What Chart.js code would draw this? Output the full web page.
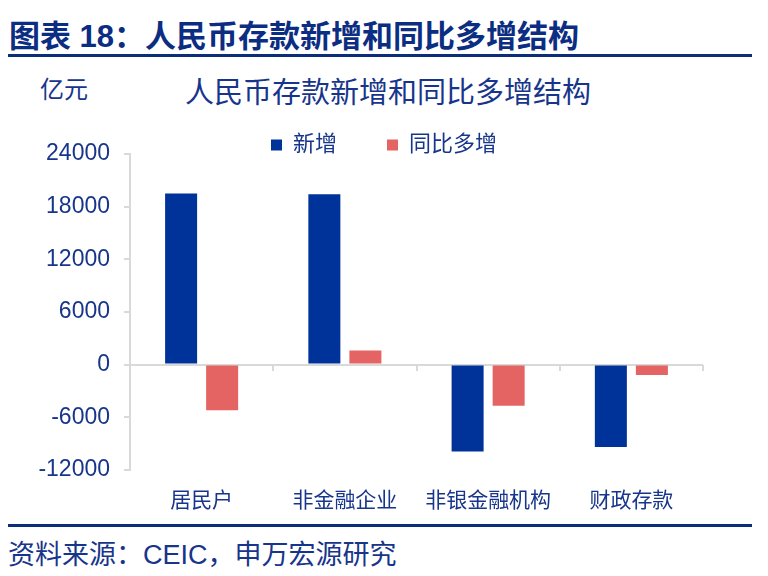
<!DOCTYPE html>
<html>
<head>
<meta charset="utf-8">
<script src="https://cdn.jsdelivr.net/npm/chart.js@4.4.1/dist/chart.umd.min.js"></script>
<style>
  html, body { margin: 0; padding: 0; background: #fff; }
  body { width: 768px; height: 576px; position: relative; overflow: hidden;
         font-family: "Liberation Sans", "Noto Sans CJK SC", sans-serif; color: #17358a; }
  .abs { position: absolute; white-space: nowrap; }
  #fig-title { left: 9px; top: 21px; font-size: 31px; line-height: 31px; font-weight: bold; color: #0b2d82; }
  .rule { position: absolute; left: 8px; width: 744px; height: 3px; background: #0b2d7a; }
  #unit { left: 40px; top: 78px; font-size: 24px; line-height: 24px; }
  #chart-title { left: 0; width: 776px; text-align: center; top: 79px; font-size: 29px; line-height: 29px; }
  #source { left: 8px; top: 542px; font-size: 27px; line-height: 27px; }
  #wrap { position: absolute; left: 0; top: 84px; width: 768px; height: 460px; }
</style>
</head>
<body>
<div id="fig-title" class="abs">图表 18：人民币存款新增和同比多增结构</div>
<div class="rule" style="top:54px"></div>
<div id="unit" class="abs">亿元</div>
<div id="chart-title" class="abs">人民币存款新增和同比多增结构</div>
<div class="rule" style="top:524px"></div>
<div id="source" class="abs">资料来源：CEIC，申万宏源研究</div>
<div id="wrap"><canvas id="chart"></canvas></div>

<script>
// --- Data (亿元) ---
const CATEGORIES = ['居民户', '非金融企业', '非银金融机构', '财政存款'];
const NEW_ADD    = [19500, 19400, -9900, -9400];   // 新增
const YOY_ADD    = [-5200, 1600, -4700, -1200];    // 同比多增
const Y_MIN = -12000, Y_MAX = 24000, Y_STEP = 6000;

const NAVY = '#17358a';
const AXIS_GREY = '#d9d9d9';
const FONT = '"Liberation Sans", "Noto Sans CJK SC", sans-serif';

const ctx = document.getElementById('chart').getContext('2d');
new Chart(ctx, {
  type: 'bar',
  data: {
    labels: CATEGORIES,
    datasets: [
      { label: '新增', data: NEW_ADD, backgroundColor: '#003399', xAxisID: 'x', yAxisID: 'y',
        categoryPercentage: 0.573, barPercentage: 0.78 },
      { label: '同比多增', data: YOY_ADD, backgroundColor: '#e46363', xAxisID: 'x', yAxisID: 'y',
        categoryPercentage: 0.573, barPercentage: 0.78 }
    ]
  },
  options: {
    responsive: true, maintainAspectRatio: false, animation: false,
    layout: { padding: { left: 0, right: 0, top: 0, bottom: 11 } },
    plugins: {
      title: { display: false },
      tooltip: { enabled: false },
      legend: {
        position: 'top', align: 'center', maxHeight: 70,
        labels: { boxWidth: 11, boxHeight: 11, padding: 50, color: NAVY,
                  font: { size: 22, family: FONT } }
      }
    },
    scales: {
      x: {
        type: 'category', position: 'bottom',
        grid: { display: false, drawTicks: false },
        border: { display: false },
        ticks: { color: NAVY, padding: 19, maxRotation: 0, font: { size: 21, family: FONT } }
      },
      x2: {
        type: 'category', labels: CATEGORIES, position: { y: 0 }, offset: true,
        grid: { offset: true, drawOnChartArea: false, drawTicks: true, tickLength: 6,
                color: AXIS_GREY, tickColor: AXIS_GREY, lineWidth: 2 },
        border: { display: false },
        ticks: { display: false }
      },
      y: {
        min: Y_MIN, max: Y_MAX,
        afterFit: s => { s.width = 130; },
        ticks: { stepSize: Y_STEP, padding: 14, color: NAVY, font: { size: 23, family: FONT },
                 callback: v => String(v) },
        grid: {
          tickLength: 6, tickColor: AXIS_GREY, lineWidth: 2,
          color: c => (c.tick && c.tick.value === 0) ? AXIS_GREY : 'rgba(0,0,0,0)'
        },
        border: { display: true, color: AXIS_GREY, width: 2 }
      },
      // empty right-hand axis, only reserves the right margin of the plot
      yR: {
        position: 'right', min: Y_MIN, max: Y_MAX,
        afterFit: s => { s.width = 65; },
        grid: { display: false }, border: { display: false }, ticks: { display: false }
      }
    }
  }
});
</script>
</body>
</html>
